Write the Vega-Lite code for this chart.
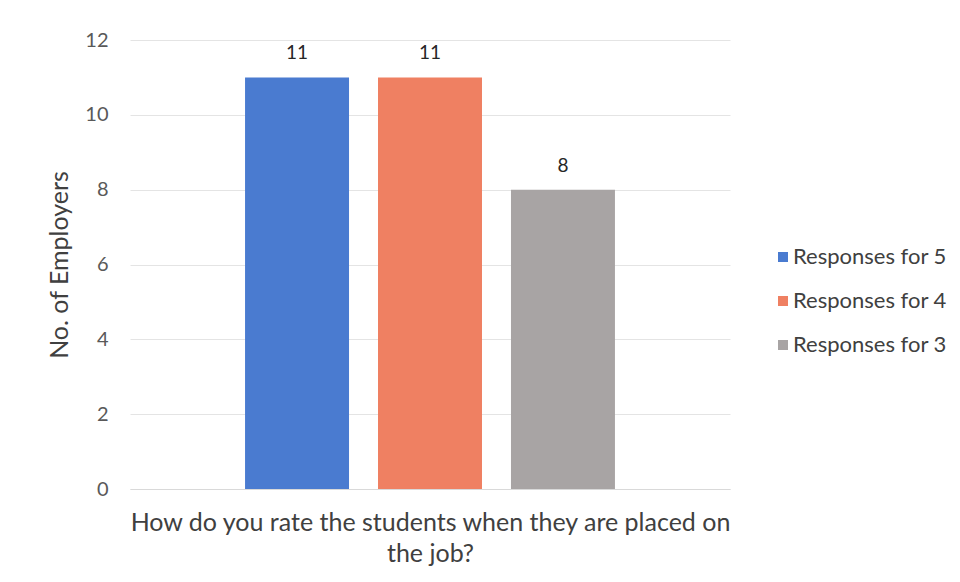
{
  "$schema": "https://vega.github.io/schema/vega-lite/v6.json",
  "width": 600,
  "height": 449,
  "autosize": {"type": "none"},
  "padding": {"left": 130, "top": 40, "right": 230, "bottom": 93},
  "background": "white",
  "config": {
    "font": "Lato",
    "view": {"stroke": null}
  },
  "data": {
    "values": [
      {"question": "How do you rate the students when they are placed on the job?", "series": "Responses for 5", "employers": 11},
      {"question": "How do you rate the students when they are placed on the job?", "series": "Responses for 4", "employers": 11},
      {"question": "How do you rate the students when they are placed on the job?", "series": "Responses for 3", "employers": 8}
    ]
  },
  "encoding": {
    "x": {
      "field": "question",
      "type": "nominal",
      "scale": {"paddingInner": 0, "paddingOuter": 0.311},
      "axis": {
        "labels": false,
        "ticks": false,
        "domainColor": "#D9D9D9",
        "title": ["How do you rate the students when they are placed on", "the job?"],
        "titleFontSize": 25,
        "titleFontWeight": "normal",
        "titleColor": "#404040",
        "titlePadding": 21,
        "titleLineHeight": 31
      }
    },
    "xOffset": {
      "field": "series",
      "type": "nominal",
      "sort": ["Responses for 5", "Responses for 4", "Responses for 3"],
      "scale": {"paddingInner": 0.218, "paddingOuter": 0}
    },
    "y": {
      "field": "employers",
      "type": "quantitative",
      "scale": {"domain": [0, 12], "nice": false},
      "axis": {
        "values": [0, 2, 4, 6, 8, 10, 12],
        "domain": false,
        "ticks": false,
        "gridColor": "#E4E4E4",
        "labelFontSize": 20,
        "labelColor": "#595959",
        "labelPadding": 22,
        "title": "No. of Employers",
        "titleFontSize": 25,
        "titleFontWeight": "normal",
        "titleColor": "#404040",
        "titlePadding": 12
      }
    }
  },
  "layer": [
    {
      "mark": {"type": "bar"},
      "encoding": {
        "color": {
          "field": "series",
          "type": "nominal",
          "sort": ["Responses for 5", "Responses for 4", "Responses for 3"],
          "scale": {
            "domain": ["Responses for 5", "Responses for 4", "Responses for 3"],
            "range": ["#4A7BD0", "#EF8062", "#A8A4A4"]
          },
          "legend": {
            "title": null,
            "orient": "none",
            "legendX": 642,
            "legendY": 206,
            "symbolType": "square",
            "symbolSize": 100,
            "symbolStrokeWidth": 0,
            "labelFontSize": 22,
            "labelColor": "#404040",
            "rowPadding": 22,
            "labelOffset": -1
          }
        }
      }
    },
    {
      "mark": {"type": "text", "baseline": "bottom", "dy": -14, "fontSize": 19, "color": "#262626"},
      "encoding": {
        "text": {"field": "employers", "type": "quantitative"}
      }
    }
  ]
}
